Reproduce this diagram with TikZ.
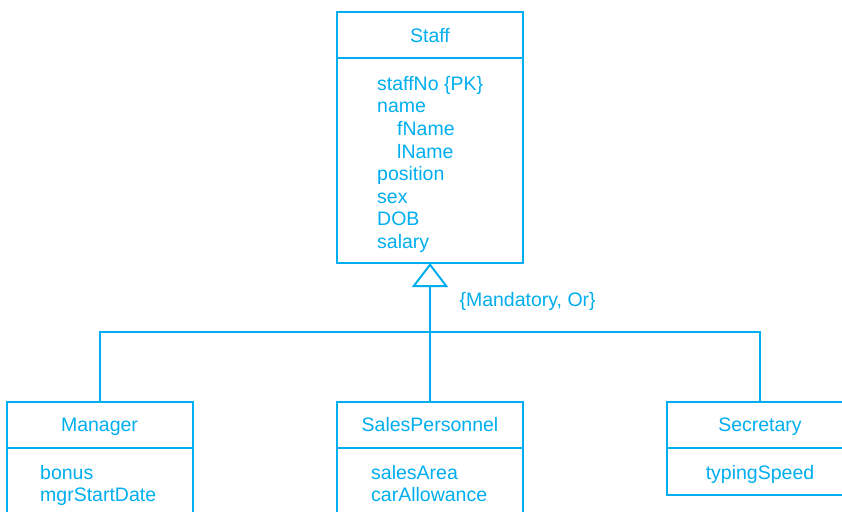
\documentclass[tikz,border=0pt]{standalone}
\usepackage{fontspec}
\setmainfont{Liberation Sans}
\usepackage{tikz}
\usetikzlibrary{arrows.meta,positioning}
\definecolor{umlcyan}{HTML}{00AEEF}
\tikzset{
    classhead/.style={
        rectangle,
        draw=umlcyan,
        line width=2pt,
        minimum width=186pt,
        minimum height=46pt,
        inner sep=0pt,
        outer sep=0pt,
        text height=14.5pt,
        text depth=0pt,
        text=umlcyan
    },
    classbody/.style={
        rectangle,
        draw=umlcyan,
        line width=2pt,
        minimum width=186pt,
        inner sep=0pt,
        outer sep=0pt,
        anchor=north
    },
    attrlist/.style={
        anchor=north west,
        inner sep=0pt,
        align=left,
        text=umlcyan
    },
    link/.style={draw=umlcyan, line width=2pt},
    font={\fontsize{19.5pt}{22.6pt}\selectfont},
}

\begin{document}
\begin{tikzpicture}[x=1pt, y=-1pt]
\useasboundingbox (0,0) rectangle (842,511);

\node[classhead] (staff) at (430,35) {Staff};
\node[classbody, minimum height=205pt] (staffbody) at (staff.south) {};
\node[attrlist] (staffattr) at (377,76) {staffNo \{PK\}\\name\\\hspace*{20pt}fName\\\hspace*{20pt}lName\\position\\sex\\DOB\\salary};

\node[classhead] (manager) at (99.5,424.5) {Manager};
\node[classbody, minimum height=80pt] (managerbody) at (manager.south) {};
\node[attrlist] (managerattr) at (40,465) {bonus\\mgrStartDate};

\node[classhead] (salesp) at (430,424.5) {SalesPersonnel};
\node[classbody, minimum height=80pt] (salespbody) at (salesp.south) {};
\node[attrlist] (salespattr) at (371,465) {salesArea\\carAllowance};

\node[classhead] (secretary) at (760,424.5) {Secretary};
\node[classbody, minimum height=47pt] (secretarybody) at (secretary.south) {};
\node[anchor=base, text=umlcyan] (secretaryattr) at (760,479) {typingSpeed};

\coordinate (split) at (430,332);
\draw[link] (manager.north) |- (split) -| (secretary.north);
\draw[link, -{Triangle[open, length=24pt, width=36pt]}] (salesp.north) -- (staffbody.south);
\node[anchor=west, text=umlcyan] (constraint) at (456,301) {\{Mandatory, Or\}};
\end{tikzpicture}
\end{document}
